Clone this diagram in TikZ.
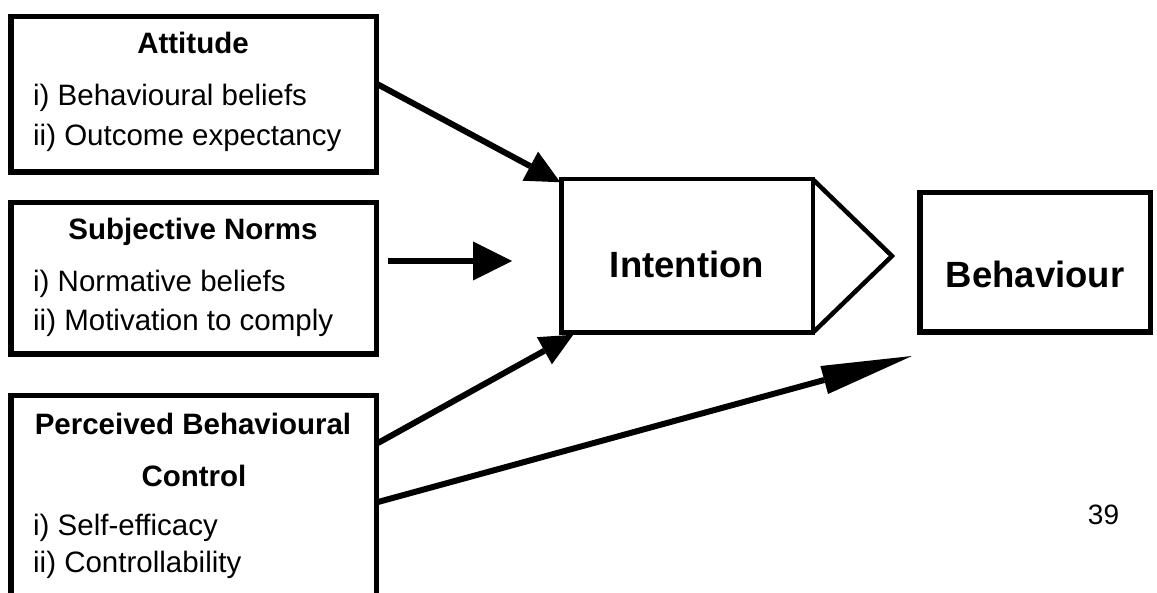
\documentclass[tikz,border=0pt]{standalone}
\usepackage{fontspec}
\setmainfont{Liberation Sans}
\usetikzlibrary{arrows.meta,calc}
\begin{document}
\begin{tikzpicture}[x=1pt,y=-1pt,
  box/.style={draw,line width=5.5pt,inner sep=0pt,outer sep=0pt},
  ibox/.style={draw,line width=4.5pt,inner sep=0pt,outer sep=0pt},
  ttl/.style={anchor=base,inner sep=0pt,font=\fontsize{29.5}{34}\selectfont\bfseries},
  itm/.style={anchor=base west,inner sep=0pt,font=\fontsize{29.5}{34}\selectfont},
  big/.style={anchor=base,inner sep=0pt,font=\fontsize{36.5}{44}\selectfont\bfseries},
  conn/.style={line width=6pt},
]
\clip (0,0) rectangle (1157,593);
\fill[white] (0,0) rectangle (1157,593);

% boxes
\node[box,minimum width=365.5pt,minimum height=155.5pt] (att) at (193.5,94.5) {};
\node[box,minimum width=365.5pt,minimum height=151.5pt] (sub) at (193.5,278.5) {};
\node[box,minimum width=365.5pt,minimum height=304.5pt] (pbc) at (193.5,548) {};
\node[ibox,minimum width=251.5pt,minimum height=153.5pt] (int) at (687,256) {};
\node[box,minimum width=230.5pt,minimum height=139.5pt] (beh) at (1035,262.5) {};

% texts
\node[ttl] (attT) at (193,54) {Attitude};
\node[itm] (att1) at (33,106) {i) Behavioural beliefs};
\node[itm] (att2) at (33,146) {ii) Outcome expectancy};
\node[ttl] (subT) at (193,240) {Subjective Norms};
\node[itm] (sub1) at (33,292) {i) Normative beliefs};
\node[itm] (sub2) at (33,331) {ii) Motivation to comply};
\node[ttl] (pbcT1) at (193,435) {Perceived Behavioural};
\node[ttl] (pbcT2) at (194,486) {Control};
\node[itm] (pbc1) at (33,535) {i) Self-efficacy};
\node[itm] (pbc2) at (33,572) {ii) Controllability};
\node[big] (intT) at (687,278) {Intention};
\node[big] (behT) at (1035,288) {Behaviour};
\node[anchor=base,inner sep=0pt,font=\fontsize{28}{34}\selectfont] (pg) at (1103.5,524) {39};

% triangle on Intention
\coordinate (apex) at (892,256);
\draw[line width=4.5pt,line join=miter] (int.north east) -- (apex) -- (int.south east);

% connectors
\coordinate (a1s) at ($(att.east)+(-1,-11.5)$);
\coordinate (a1e) at ($(int.north west)+(-1,3)$);
\draw[conn,-{Triangle[length=34pt,width=33pt,line width=0pt]}] (a1s) -- (a1e);

\coordinate (s1s) at ($(sub.east)+(12,-17.5)$);
\coordinate (s1e) at (512,261);
\draw[conn,-{Triangle[length=39pt,width=39pt,line width=0pt]}] (s1s) -- (s1e);

\coordinate (p1s) at (378,443);
\coordinate (p1e) at ($(int.south west)+(12,2)$);
\draw[conn,-{Triangle[length=33pt,width=31pt,line width=0pt]}] (p1s) -- (p1e);

\coordinate (p2s) at (378,502);
\coordinate (p2e) at (912,356);
\draw[conn,-{Triangle[length=91pt,width=29pt,line width=0pt]}] (p2s) -- (p2e);
\end{tikzpicture}
\end{document}
